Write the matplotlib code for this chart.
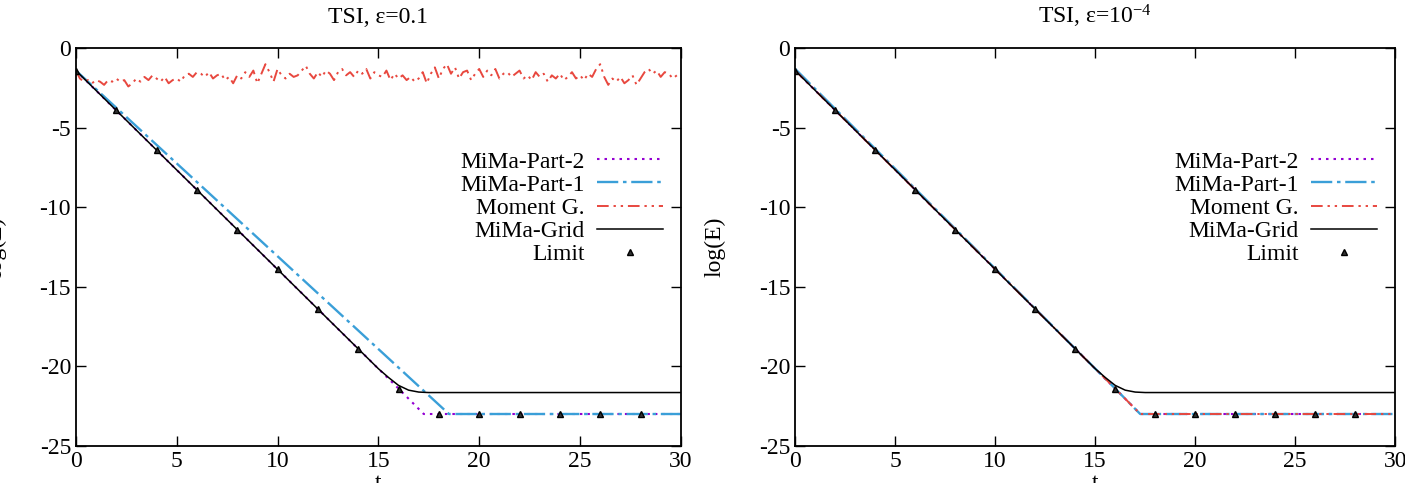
import numpy as np
import matplotlib
matplotlib.use("Agg")
import matplotlib.pyplot as plt

plt.rcParams["font.family"] = ["Liberation Serif", "DejaVu Serif"]
plt.rcParams["mathtext.default"] = "regular"
plt.rcParams["axes.unicode_minus"] = False
plt.rcParams["font.size"] = 17


# ============================================================
# Data (log of electric energy)
# ============================================================

# Limit markers
t_limit = [0, 2, 4, 6, 8, 10, 12, 14, 16, 18, 20, 22, 24, 26, 28]
E_limit = [-1.4, -3.9, -6.4, -8.9, -11.4, -13.9, -16.4, -18.9, -21.4,
           -23.0, -23.0, -23.0, -23.0, -23.0, -23.0]

# MiMa-Grid (same in both panels)
t_grid = [0, 14, 15, 15.5, 16, 16.5, 17, 17.5, 30]
E_grid = [-1.4, -18.9, -20.15, -20.7, -21.2, -21.5, -21.62, -21.65, -21.65]

# MiMa-Part-2 (both panels)
t_part2 = [0, 16, 17.25, 30]
E_part2 = [-1.4, -21.4, -23.0, -23.0]

# MiMa-Part-1, eps = 0.1
t_part1_a = [0, 18.5, 30]
E_part1_a = [-1.4, -23.0, -23.0]

# MiMa-Part-1, eps = 1e-4
t_part1_b = [0, 16, 17.25, 30]
E_part1_b = [-1.3, -21.4, -23.0, -23.0]

# Moment G., eps = 0.1 (does not decay), sampled every 0.2
t_mom_a = np.linspace(0, 30, 151)
E_mom_a = [
    -1.4, -1.9, -2.1, -2.0, -2.2, -2.0, -2.1, -2.3, -2.0, -2.1, -1.9,
    -2.1, -2.0, -2.4, -2.2, -1.9, -2.1, -1.8, -2.0, -1.7, -1.9,
    -2.1, -1.8, -2.2, -2.0, -1.9, -2.1, -1.7, -1.6, -1.8, -1.5,
    -1.6, -1.8, -1.5, -1.9, -1.7, -1.6, -2.0, -1.8, -2.2, -1.7,
    -1.9, -1.5, -1.8, -1.4, -2.2, -1.6, -1.0, -1.5, -2.1, -1.3,
    -1.7, -1.9, -1.6, -1.8, -1.7, -1.4, -1.1, -1.6, -1.9, -1.5,
    -1.8, -1.4, -1.6, -2.0, -1.5, -1.3, -1.7, -1.5, -1.8, -1.4,
    -1.6, -1.3, -1.9, -1.5, -1.7, -1.8, -1.4, -2.0, -1.6, -1.9,
    -1.7, -2.0, -1.8, -2.1, -1.9, -1.5, -2.2, -1.6, -1.2, -1.9,
    -1.3, -1.0, -1.6, -1.2, -1.9, -1.5, -1.4, -2.0, -1.6, -1.3,
    -1.8, -1.4, -1.7, -1.3, -1.9, -1.6, -1.5, -1.8, -1.6, -1.4,
    -1.9, -1.7, -2.0, -1.5, -1.8, -1.6, -2.1, -1.7, -1.9, -1.6,
    -2.0, -1.8, -1.5, -1.9, -1.7, -2.0, -1.6, -1.8, -1.3, -1.0,
    -1.8, -2.3, -1.9, -2.1, -1.8, -2.2, -2.0, -1.7, -2.3, -1.9,
    -1.5, -1.3, -1.6, -1.4, -1.8, -1.5, -1.6, -1.9, -1.7, -1.8,
]

# Moment G., eps = 1e-4
t_mom_b = [0, 16, 17.25, 30]
E_mom_b = [-1.4, -21.4, -23.0, -23.0]


# ============================================================
# Styles
# ============================================================

c_part2 = "#9400d3"
c_part1 = "#3a9fd8"
c_mom = "#e8483f"

ls_part2 = (0, (1.2, 2.4))
ls_part1 = (0, (9, 2, 1.5, 2))
ls_mom = (0, (6, 2.5, 1.2, 2.5, 1.2, 2.5))


def draw_panel(ax, t1, E1, tm, Em, title):
    ax.plot(t_part2, E_part2, color=c_part2, ls=ls_part2, lw=1.5,
            label="MiMa-Part-2")
    ax.plot(t1, E1, color=c_part1, ls=ls_part1, lw=1.7,
            label="MiMa-Part-1")
    ax.plot(tm, Em, color=c_mom, ls=ls_mom, lw=1.4, label="Moment G.")
    ax.plot(t_grid, E_grid, color="black", lw=1.1, label="MiMa-Grid")
    ax.plot(t_limit, E_limit, ls="none", marker="^", ms=5,
            color="#333333", mec="black", label="Limit")

    ax.set_xlim(0, 30)
    ax.set_ylim(-25, 0)
    ax.set_xticks([0, 5, 10, 15, 20, 25, 30])
    ax.set_yticks([0, -5, -10, -15, -20, -25])
    ax.tick_params(direction="in", length=7, width=1, top=True, right=True,
                   labelsize=17)
    for s in ax.spines.values():
        s.set_linewidth(1.3)
    ax.set_xlabel("t", labelpad=1)
    ax.set_ylabel("log(E)", labelpad=24)
    ax.set_title(title, fontsize=17, pad=18)

    ax.legend(loc="upper right", bbox_to_anchor=(1.005, 0.795),
              frameon=False, markerfirst=False, handlelength=2.8,
              labelspacing=0.07, handletextpad=0.5, fontsize=17)


fig = plt.figure(figsize=(14.05, 4.83), dpi=100)
ax1 = fig.add_axes([0.054, 0.077, 0.4306, 0.823])
ax2 = fig.add_axes([0.566, 0.077, 0.427, 0.823])

draw_panel(ax1, t_part1_a, E_part1_a, t_mom_a, E_mom_a, "TSI, ε=0.1")
draw_panel(ax2, t_part1_b, E_part1_b, t_mom_b, E_mom_b, "TSI, ε=10$^{-4}$")

fig.savefig("out.png", dpi=100)
